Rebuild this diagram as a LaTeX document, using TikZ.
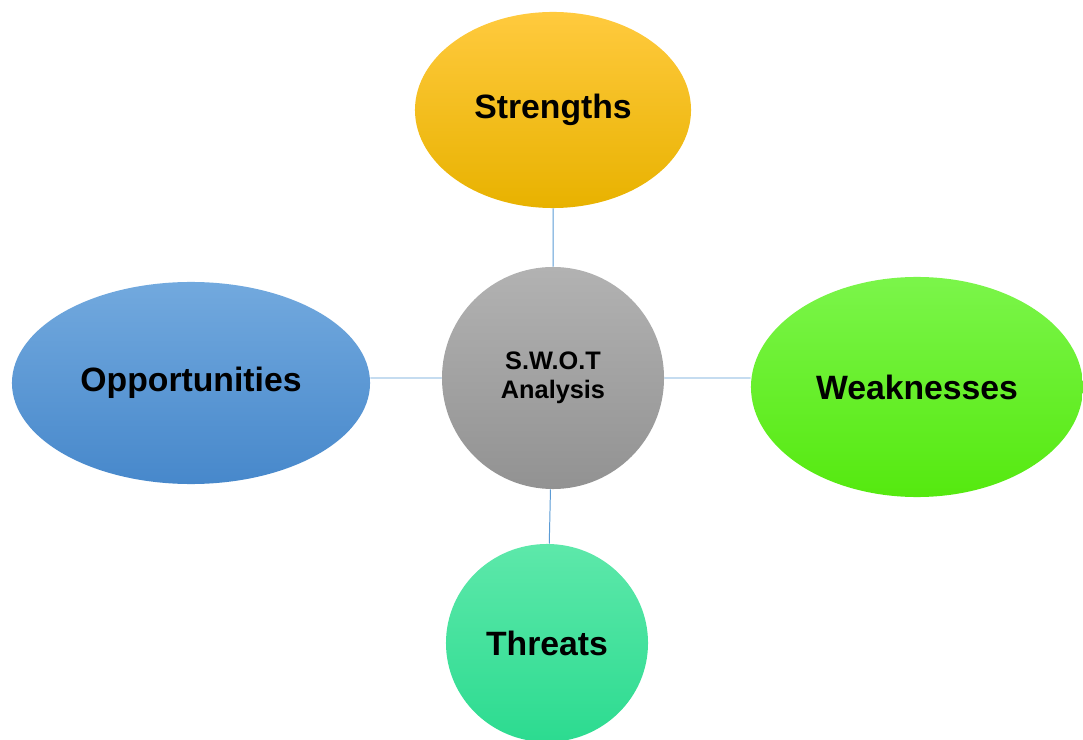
\documentclass[tikz,border=0pt]{standalone}
\usepackage{fontspec}
\setmainfont{Liberation Sans}
\usetikzlibrary{shapes.geometric,positioning}
\definecolor{strtop}{HTML}{FFCA3E}
\definecolor{strbot}{HTML}{E8B200}
\definecolor{opptop}{HTML}{72A9DE}
\definecolor{oppbot}{HTML}{4788CB}
\definecolor{weatop}{HTML}{7BF54A}
\definecolor{weabot}{HTML}{55E90F}
\definecolor{thrtop}{HTML}{5DE8AA}
\definecolor{thrbot}{HTML}{2CDB90}
\definecolor{swttop}{HTML}{B2B2B2}
\definecolor{swtbot}{HTML}{929292}
\definecolor{linkblue}{HTML}{5B9BD5}
\tikzset{
  % bubble style for the four parts
  bubble/.style={
    ellipse,
    inner sep=0pt,
    font=\bfseries\fontsize{24}{28}\selectfont,
    text centered},
  % connector style
  link/.style={
    draw=linkblue,
    line width=0.7pt}
}
\begin{document}
\begin{tikzpicture}[x=0.025cm,y=-0.025cm]
    \useasboundingbox (0,0) rectangle (1083,740);
    \node[bubble,circle,minimum size=5.55cm,
      top color=swttop,bottom color=swtbot,align=center,
      font=\bfseries\fontsize{18}{21}\selectfont] (swot) at (553,378) {S.W.O.T\\Analysis};
    \node[bubble,minimum width=6.9cm,minimum height=4.9cm,
      top color=strtop,bottom color=strbot] (strengths) at (553,110) {Strengths};
    \node[bubble,minimum width=8.95cm,minimum height=5.05cm,
      top color=opptop,bottom color=oppbot] (opportunities) at (191,383) {Opportunities};
    \node[bubble,minimum width=8.3cm,minimum height=5.5cm,
      top color=weatop,bottom color=weabot] (weaknesses) at (917,387) {Weaknesses};
    \node[bubble,minimum width=5.05cm,minimum height=4.95cm,
      top color=thrtop,bottom color=thrbot] (threats) at (547,643) {Threats};
    \path[link]
    (strengths) -- (swot)
    (swot.west) -- (swot.west -| opportunities.east)
    (swot.east) -- (swot.east -| weaknesses.west)
    (swot) -- (threats)
    ;
  \end{tikzpicture}
\end{document}
